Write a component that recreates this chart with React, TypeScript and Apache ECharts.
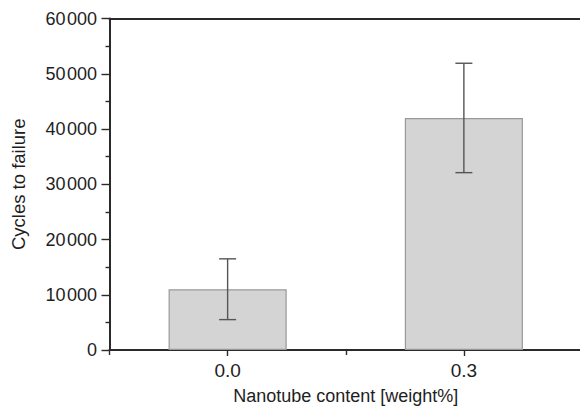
import React, { useEffect, useRef } from "react";
import * as echarts from "echarts";

const categories = ["0.0", "0.3"];
const meanValues = [11000, 42000];
const errorValues = [5500, 9900];
const yTicks = [0, 10000, 20000, 30000, 40000, 50000, 60000];

const fmt = (v: number) => {
  if (v === 0) return "0";
  const s = String(v);
  return s.slice(0, s.length - 3) + "\u200A" + s.slice(s.length - 3);
};

export default function App() {
  const ref = useRef<HTMLDivElement>(null);
  useEffect(() => {
    if (!ref.current) return;
    const chart = echarts.init(ref.current, null, { renderer: "svg" });
    const font = "Liberation Sans, Arial, sans-serif";
    const axisColor = "#2a2a2a";
    const textColor = "#1e1e1e";
    chart.setOption({
      animation: false,
      grid: { left: 109.5, top: 18.5, right: -2, bottom: 59, outerBoundsMode: "none", containLabel: false },
      xAxis: [
        {
          type: "category",
          data: categories,
          position: "bottom",
          axisLine: { show: true, lineStyle: { color: axisColor, width: 2 } },
          axisTick: { show: true, alignWithLabel: true, length: 6, lineStyle: { color: axisColor, width: 1.4 } },
          axisLabel: { fontSize: 19, color: textColor, fontFamily: font, margin: 11 },
          name: "Nanotube content [weight%]",
          nameLocation: "middle",
          nameGap: 37,
          nameTextStyle: { fontSize: 18, color: textColor, fontFamily: font, lineHeight: 18 },
        },
        {
          type: "category",
          data: categories,
          position: "bottom",
          offset: 0,
          axisLine: { show: false },
          axisTick: { show: true, alignWithLabel: false, length: 5, lineStyle: { color: axisColor, width: 1.4 } },
          axisLabel: { show: false },
        },
        {
          type: "category",
          data: categories,
          position: "top",
          axisLine: { show: true, lineStyle: { color: axisColor, width: 2 } },
          axisTick: { show: false },
          axisLabel: { show: false },
        },
      ],
      yAxis: {
        type: "value",
        min: yTicks[0],
        max: yTicks[yTicks.length - 1],
        interval: 10000,
        splitLine: { show: false },
        axisLine: { show: true, lineStyle: { color: axisColor, width: 2 } },
        axisTick: { show: true, length: 8, lineStyle: { color: axisColor, width: 1.4 } },
        minorTick: { show: true, splitNumber: 2, length: 4, lineStyle: { color: axisColor, width: 1.4 } },
        axisLabel: {
          fontSize: 18,
          color: textColor,
          fontFamily: font,
          margin: 12.5,
          formatter: (v: number) => fmt(v),
        },
        name: "Cycles to failure",
        nameLocation: "middle",
        nameGap: 82,
        nameTextStyle: { fontSize: 18.5, color: textColor, fontFamily: font },
      },
      series: [
        {
          type: "bar",
          xAxisIndex: 0,
          data: meanValues,
          barWidth: "50%",
          itemStyle: { color: "#d4d4d4", borderColor: "#999", borderWidth: 1.2 },
        },
        {
          type: "custom",
          xAxisIndex: 0,
          data: categories.map((c, i) => [i, meanValues[i] - errorValues[i], meanValues[i] + errorValues[i]]),
          renderItem: (params: any, api: any) => {
            const x = api.value(0);
            const lo = api.coord([x, api.value(1)]);
            const hi = api.coord([x, api.value(2)]);
            const hw = 8.5;
            const style = { stroke: "#555", lineWidth: 1.4 };
            return {
              type: "group",
              children: [
                { type: "line", shape: { x1: lo[0], y1: lo[1], x2: hi[0], y2: hi[1] }, style },
                { type: "line", shape: { x1: lo[0] - hw, y1: lo[1], x2: lo[0] + hw, y2: lo[1] }, style },
                { type: "line", shape: { x1: hi[0] - hw, y1: hi[1], x2: hi[0] + hw, y2: hi[1] }, style },
              ],
            };
          },
          z: 10,
        },
      ],
    });
    return () => chart.dispose();
  }, []);
  return (
    <div
      ref={ref}
      style={{ position: "fixed", left: 0, top: 0, width: 580, height: 409, background: "#fff" }}
    />
  );
}
